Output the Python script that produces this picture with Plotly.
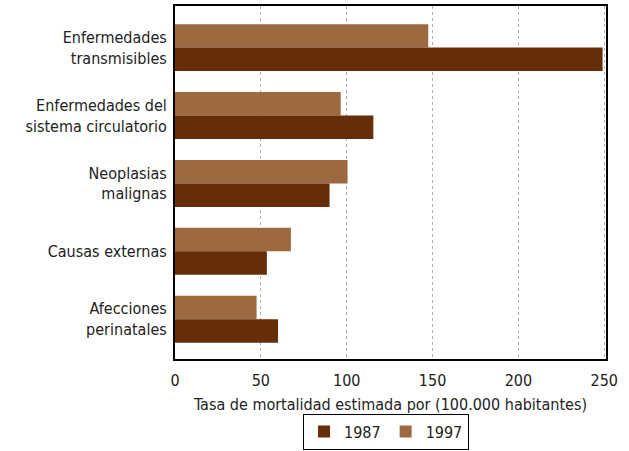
import plotly.graph_objects as go

categories = ["Enfermedades<br>transmisibles", "Enfermedades del<br>sistema circulatorio",
              "Neoplasias<br>malignas", "Causas externas", "Afecciones<br>perinatales"]
values_1987 = [249, 115.5, 90, 53.5, 60]
values_1997 = [147.5, 96.5, 100.5, 67.5, 47.5]
x_ticks = [0, 50, 100, 150, 200, 250]

FONT = "DejaVu Sans Condensed, Liberation Sans Narrow, sans-serif"

fig = go.Figure()
fig.add_trace(go.Bar(y=categories, x=values_1997, name="1997", orientation="h",
                     marker=dict(color="#9C6940", line=dict(width=0)), legendrank=2))
fig.add_trace(go.Bar(y=categories, x=values_1987, name="1987", orientation="h",
                     marker=dict(color="#652D08", line=dict(width=0)), legendrank=1))

fig.update_layout(
    width=629, height=451,
    margin=dict(l=175, r=23, t=6, b=92, autoexpand=False),
    plot_bgcolor="white", paper_bgcolor="white",
    barmode="group", bargap=0.308, bargroupgap=0,
    font=dict(family=FONT, size=16, color="#222"),
    showlegend=True,
    legend=dict(orientation="h", x=0.6137, xanchor="center", xref="container",
                y=0.003, yanchor="bottom", yref="container",
                bordercolor="black", borderwidth=1, font=dict(size=16),
                traceorder="normal", itemwidth=30),
    xaxis=dict(range=[0, 251], tickvals=x_ticks, ticks="", showgrid=True,
               gridcolor="#b0b0b0", griddash="dot", gridwidth=1,
               showline=True, linecolor="black", linewidth=2, mirror=True,
               zeroline=False, automargin=False, ticklabelstandoff=6,
               title=dict(text="Tasa de mortalidad estimada por (100.000 habitantes)",
                          standoff=11, font=dict(size=16))),
    yaxis=dict(range=[4.586, -0.613], ticks="", showgrid=False, showline=True,
               linecolor="black", linewidth=2, mirror=True, ticklabelstandoff=3,
               automargin=False),
)

fig.write_html("out.html", config={"displayModeBar": False},
               post_script="document.body.style.margin='0';")
